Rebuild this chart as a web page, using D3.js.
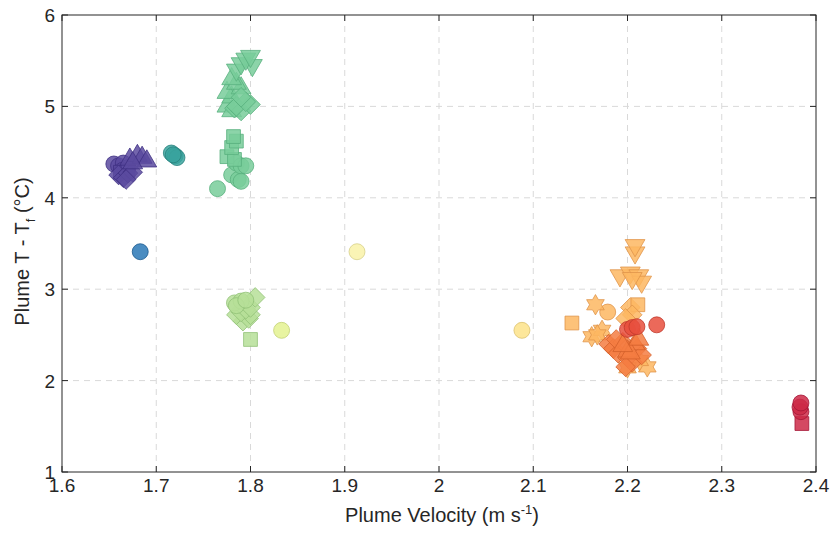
<!DOCTYPE html>
<html>
<head>
<meta charset="utf-8">
<script src="https://cdn.jsdelivr.net/npm/d3@7"></script>
<style>
  body { margin: 0; background: #fff; }
  text { font-family: "Liberation Sans", Arial, sans-serif; fill: #262626; }
</style>
</head>
<body>
<script>
// data, [velocity, temperature, marker]
var purple = [
    [1.655, 4.37, "o"], [1.660, 4.35, "o"], [1.665, 4.38, "o"], [1.670, 4.33, "o"], [1.664, 4.30, "o"],
    [1.662, 4.28, "s"], [1.670, 4.30, "s"],
    [1.660, 4.25, "d"], [1.665, 4.22, "d"], [1.670, 4.27, "d"], [1.675, 4.28, "d"], [1.668, 4.20, "d"],
    [1.672, 4.42, "^"], [1.680, 4.46, "^"], [1.685, 4.44, "^"], [1.690, 4.40, "^"], [1.675, 4.38, "^"]
];
var darkBlue = [[1.683, 3.41, "o"]];
var teal = [[1.716, 4.49, "o"], [1.720, 4.46, "o"], [1.722, 4.44, "o"], [1.718, 4.47, "o"]];
var green = [
    [1.765, 4.10, "o"], [1.780, 4.25, "o"], [1.787, 4.20, "o"], [1.790, 4.18, "o"],
    [1.785, 4.38, "o"], [1.790, 4.35, "o"], [1.795, 4.35, "o"],
    [1.775, 4.45, "s"], [1.783, 4.42, "s"], [1.780, 4.55, "s"], [1.785, 4.62, "s"], [1.782, 4.67, "s"],
    [1.775, 5.00, "^"], [1.780, 4.95, "^"], [1.780, 5.10, "^"], [1.775, 5.15, "^"], [1.790, 5.20, "^"],
    [1.785, 5.25, "^"], [1.780, 5.30, "^"],
    [1.783, 4.98, "d"], [1.790, 4.95, "d"], [1.785, 5.00, "d"], [1.800, 5.02, "d"], [1.795, 5.05, "d"], [1.790, 5.10, "d"],
    [1.785, 5.40, "v"], [1.802, 5.45, "v"], [1.790, 5.47, "v"], [1.795, 5.52, "v"], [1.800, 5.55, "v"]
];
var lightGreen = [
    [1.800, 2.45, "s"],
    [1.792, 2.65, "d"], [1.798, 2.68, "d"], [1.800, 2.72, "d"], [1.785, 2.72, "d"], [1.790, 2.75, "d"],
    [1.795, 2.78, "d"], [1.800, 2.80, "d"], [1.805, 2.91, "d"],
    [1.783, 2.85, "o"], [1.790, 2.87, "o"], [1.785, 2.82, "o"], [1.795, 2.88, "o"]
];
var yellowGreen = [[1.833, 2.55, "o"]];
var paleYellow = [[1.913, 3.41, "o"]];
var yellow = [[2.088, 2.55, "o"]];
var lightOrange = [
    [2.141, 2.63, "s"], [2.179, 2.75, "o"],
    [2.166, 2.83, "h"], [2.162, 2.48, "h"], [2.173, 2.55, "h"], [2.168, 2.50, "h"],
    [2.221, 2.15, "h"], [2.213, 2.22, "h"], [2.200, 2.14, "h"],
    [2.203, 2.80, "d"], [2.211, 2.83, "s"], [2.205, 2.72, "d"], [2.198, 2.68, "d"],
    [2.192, 3.15, "v"], [2.203, 3.18, "v"], [2.212, 3.15, "v"], [2.215, 3.08, "v"], [2.205, 3.12, "v"],
    [2.208, 3.40, "v"], [2.208, 3.48, "v"]
];
var orange = [
    [2.180, 2.40, "d"], [2.185, 2.35, "d"], [2.190, 2.30, "d"], [2.195, 2.42, "d"], [2.200, 2.25, "d"],
    [2.205, 2.20, "d"], [2.210, 2.35, "d"], [2.198, 2.15, "d"], [2.188, 2.45, "d"], [2.215, 2.28, "d"],
    [2.200, 2.32, "^"], [2.208, 2.40, "^"], [2.203, 2.30, "^"], [2.212, 2.45, "^"], [2.195, 2.38, "^"]
];
var red = [[2.200, 2.56, "o"], [2.205, 2.58, "o"], [2.210, 2.59, "o"], [2.231, 2.61, "o"]];
var crimson = [[2.385, 1.53, "s"], [2.384, 1.66, "o"], [2.383, 1.71, "o"], [2.384, 1.755, "o"]];

var groups = [
    {pts: purple, fill: "#5b4a9f", edge: "#3f3083"},
    {pts: darkBlue, fill: "#2a78b6", edge: "#1c5b8f"},
    {pts: teal, fill: "#3aa39d", edge: "#2a827d"},
    {pts: green, fill: "#78cd9a", edge: "#58b07d"},
    {pts: lightGreen, fill: "#b6df98", edge: "#92c277"},
    {pts: yellowGreen, fill: "#e4f290", edge: "#c3d173"},
    {pts: paleYellow, fill: "#f9f2a8", edge: "#d7d08a"},
    {pts: yellow, fill: "#fde38a", edge: "#dcc16d"},
    {pts: lightOrange, fill: "#fdb762", edge: "#df944a"},
    {pts: orange, fill: "#f57c42", edge: "#d35f2b"},
    {pts: red, fill: "#e84f3d", edge: "#c0392c"},
    {pts: crimson, fill: "#cc2946", edge: "#a41536"}
];

var xTicks = [1.6, 1.7, 1.8, 1.9, 2, 2.1, 2.2, 2.3, 2.4];
var yTicks = [1, 2, 3, 4, 5, 6];

var W = 833, H = 533;
var margin = {top: 15, right: 17, bottom: 61, left: 62};
var w = W - margin.left - margin.right,
    h = H - margin.top - margin.bottom;

var svg = d3.select("body").append("svg").attr("width", W).attr("height", H);
var g = svg.append("g").attr("transform", "translate(" + margin.left + "," + margin.top + ")");

var x = d3.scaleLinear().domain([1.6, 2.4]).range([0, w]);
var y = d3.scaleLinear().domain([1, 6]).range([h, 0]);

// grid
g.selectAll(".gx").data(xTicks.slice(1, -1)).enter().append("line")
    .attr("x1", d => x(d)).attr("x2", d => x(d)).attr("y1", 0).attr("y2", h)
    .attr("stroke", "#d9d9d9").attr("stroke-dasharray", "6,5");
g.selectAll(".gy").data(yTicks.slice(1, -1)).enter().append("line")
    .attr("y1", d => y(d)).attr("y2", d => y(d)).attr("x1", 0).attr("x2", w)
    .attr("stroke", "#d9d9d9").attr("stroke-dasharray", "6,5");

// marker shapes
var hexagram = {
    draw: function (ctx, size) {
        var r = Math.sqrt(size) * 0.72, ri = r / Math.sqrt(3);
        for (var i = 0; i < 12; i++) {
            var a = Math.PI / 6 * i - Math.PI / 2;
            var rr = i % 2 ? ri : r;
            if (i == 0) ctx.moveTo(rr * Math.cos(a), rr * Math.sin(a));
            else ctx.lineTo(rr * Math.cos(a), rr * Math.sin(a));
        }
        ctx.closePath();
    }
};
var diamond = {
    draw: function (ctx, size) {
        var r = Math.sqrt(size) * 0.62;
        ctx.moveTo(0, -r); ctx.lineTo(r, 0); ctx.lineTo(0, r); ctx.lineTo(-r, 0); ctx.closePath();
    }
};

function markerPath(m) {
    switch (m) {
        case "o": return d3.symbol(d3.symbolCircle, 200)();
        case "s": return d3.symbol(d3.symbolSquare, 190)();
        case "d": return d3.symbol(diamond, 250)();
        case "^": return d3.symbol(d3.symbolTriangle, 170)();
        case "v": return d3.symbol(d3.symbolTriangle, 170)();
        case "h": return d3.symbol(hexagram, 200)();
        default: return d3.symbol(d3.symbolCircle, 200)();
    }
}

groups.forEach(function (grp) {
    g.append("g").selectAll("path").data(grp.pts).enter().append("path")
        .attr("d", d => markerPath(d[2]))
        .attr("transform", d => "translate(" + x(d[0]) + "," + y(d[1]) + ")" + (d[2] == "v" ? " rotate(180)" : ""))
        .attr("fill", grp.fill).attr("fill-opacity", 0.85)
        .attr("stroke", grp.edge).attr("stroke-width", 0.8);
});

// box + inward ticks
g.append("rect").attr("width", w).attr("height", h)
    .attr("fill", "none").attr("stroke", "#262626").attr("stroke-width", 1);

var tl = 6;
g.selectAll(".tb").data(xTicks).enter().append("line")
    .attr("x1", d => x(d)).attr("x2", d => x(d)).attr("y1", h).attr("y2", h - tl).attr("stroke", "#262626");
g.selectAll(".tt").data(xTicks).enter().append("line")
    .attr("x1", d => x(d)).attr("x2", d => x(d)).attr("y1", 0).attr("y2", tl).attr("stroke", "#262626");
g.selectAll(".tl").data(yTicks).enter().append("line")
    .attr("y1", d => y(d)).attr("y2", d => y(d)).attr("x1", 0).attr("x2", tl).attr("stroke", "#262626");
g.selectAll(".tr").data(yTicks).enter().append("line")
    .attr("y1", d => y(d)).attr("y2", d => y(d)).attr("x1", w).attr("x2", w - tl).attr("stroke", "#262626");

// tick labels
g.selectAll(".xl").data(xTicks).enter().append("text")
    .attr("x", d => x(d)).attr("y", h + 20)
    .attr("text-anchor", "middle").style("font-size", "19px")
    .text(d => d3.format("")(d));
g.selectAll(".yl").data(yTicks).enter().append("text")
    .attr("x", -7).attr("y", d => y(d) + 7)
    .attr("text-anchor", "end").style("font-size", "19px")
    .text(d => d);

// axis titles
var xt = svg.append("text").attr("x", margin.left + w / 2 + 3).attr("y", 522)
    .attr("text-anchor", "middle").style("font-size", "20px");
xt.append("tspan").text("Plume Velocity (m s");
xt.append("tspan").attr("dy", -8).style("font-size", "13px").text("-1");
xt.append("tspan").attr("dy", 8).text(")");

var yt = svg.append("text").attr("transform", "translate(29," + (margin.top + h / 2 + 8) + ") rotate(-90)")
    .attr("text-anchor", "middle").style("font-size", "20px");
yt.append("tspan").text("Plume T - T");
yt.append("tspan").attr("dy", 6).style("font-size", "13px").text("f");
yt.append("tspan").attr("dy", -6).text(" (°C)");
</script>
</body>
</html>
